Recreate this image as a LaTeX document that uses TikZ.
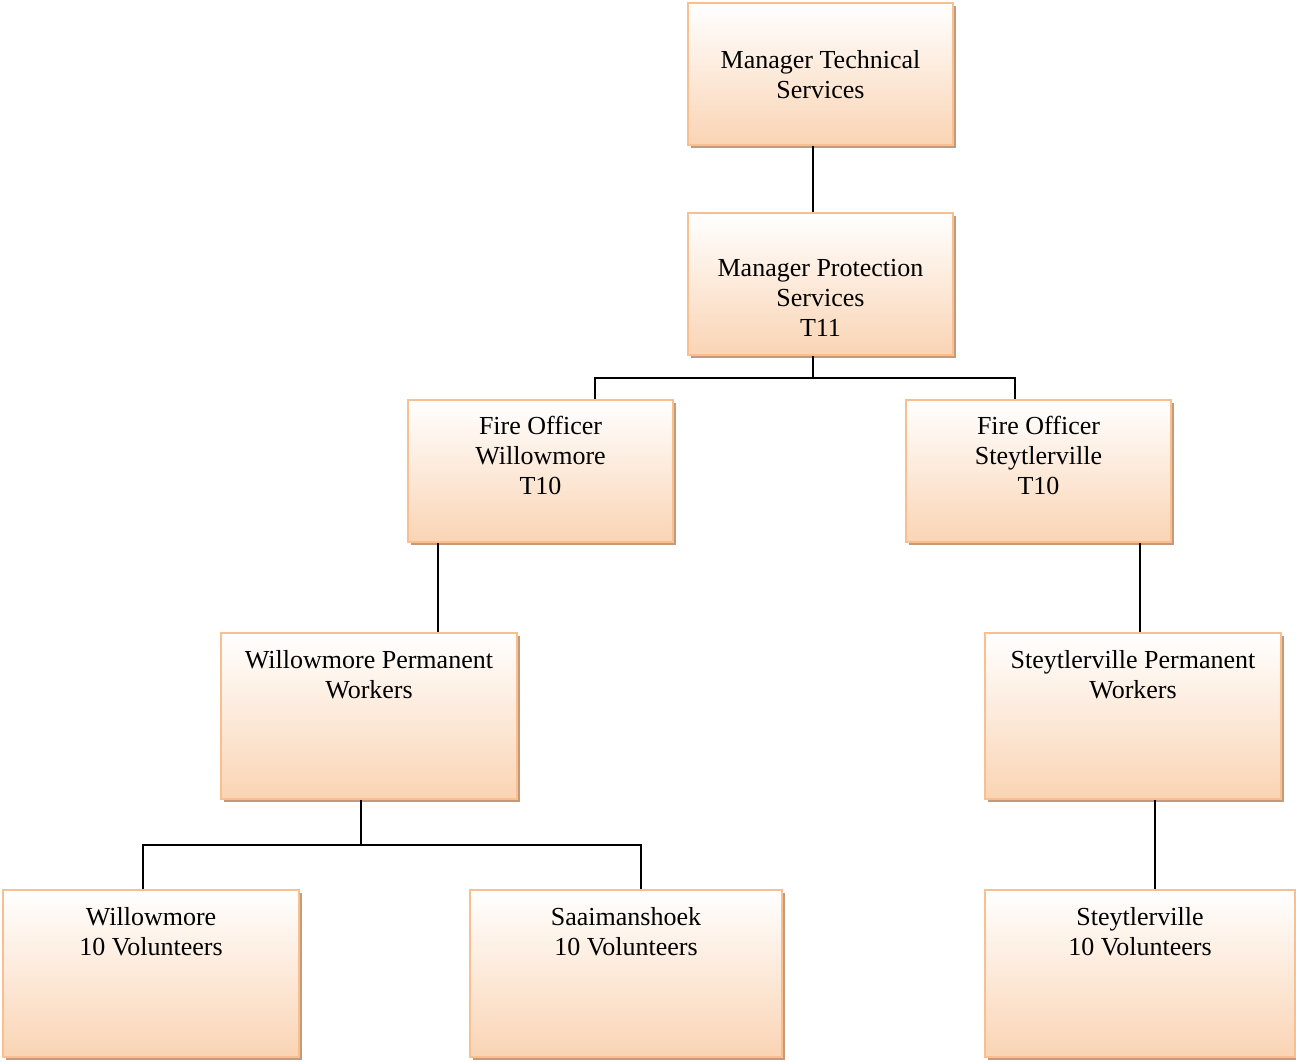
\documentclass[tikz,border=0pt]{standalone}
\usepackage{fontspec}
\setmainfont{Liberation Serif}
\usetikzlibrary{positioning,shadows}

\definecolor{boxline}{RGB}{250,191,143}
\definecolor{boxpeach}{RGB}{250,212,180}
\definecolor{boxshadow}{RGB}{196,154,122}

\begin{document}
\begin{tikzpicture}[
    x=0.5pt, y=-0.5pt,
    unit/.style={draw=boxline, line width=1pt, top color=white, bottom color=boxpeach,
      drop shadow={shadow xshift=1.5pt, shadow yshift=-1.5pt, fill=boxshadow, opacity=1},
      inner sep=0pt, minimum width=132.5pt, minimum height=71pt},
    wide/.style={unit, minimum width=148pt, minimum height=83pt},
    txt/.style={font=\fontsize{13}{15}\selectfont, align=center, inner sep=0pt},
    link/.style={line width=0.9pt}
  ]
    \useasboundingbox (0,0) rectangle (1296,1061);

    % boxes
    \node[unit] (tech) at (820.5,74) {};
    \node[unit] (prot) at (820.5,284) {};
    \node[unit] (fow) at (540.5,471) {};
    \node[unit] (fos) at (1038.5,471) {};
    \node[wide] (wpw) at (369,716) {};
    \node[wide] (spw) at (1133,716) {};
    \node[wide, minimum height=83.5pt] (wv) at (151,973.5) {};
    \node[wide, minimum width=156pt, minimum height=83.5pt] (sv) at (626,973.5) {};
    \node[wide, minimum width=155pt, minimum height=83.5pt] (stv) at (1140,973.5) {};

    % texts
    \node[txt, below=24pt of tech.north] (techtxt) {Manager Technical\\Services};
    \node[txt, below=23.5pt of prot.north] (prottxt) {Manager Protection\\Services\\T11};
    \node[txt, below=8.5pt of fow.north] (fowtxt) {Fire Officer\\Willowmore\\T10};
    \node[txt, below=8.5pt of fos.north] (fostxt) {Fire Officer\\Steytlerville\\T10};
    \node[txt, below=9pt of wpw.north] (wpwtxt) {Willowmore Permanent\\Workers};
    \node[txt, below=9pt of spw.north] (spwtxt) {Steytlerville Permanent\\Workers};
    \node[txt, below=9pt of wv.north] (wvtxt) {Willowmore\\10 Volunteers};
    \node[txt, below=9pt of sv.north] (svtxt) {Saaimanshoek\\10 Volunteers};
    \node[txt, below=9pt of stv.north] (stvtxt) {Steytlerville\\10 Volunteers};

    % connectors
    \draw[link] ([xshift=-3.75pt]tech.south) -- ([xshift=-3.75pt]prot.north);
    \draw[link] ([xshift=-3.75pt]prot.south) -- ++(0,22) -| ([xshift=27.25pt]fow.north);
    \draw[link] ([xshift=-3.75pt]prot.south) -- ++(0,22) -| ([xshift=-11.75pt]fos.north);
    \draw[link] ([xshift=-51.25pt]fow.south) -- ([xshift=-51.25pt]fow.south |- wpw.north);
    \draw[link] ([xshift=50.75pt]fos.south) -- ([xshift=50.75pt]fos.south |- spw.north);
    \draw[link] ([xshift=-4pt]wpw.south) -- ++(0,45) -| ([xshift=-4pt]wv.north);
    \draw[link] ([xshift=-4pt]wpw.south) -- ++(0,45) -| ([xshift=7.5pt]sv.north);
    \draw[link] ([xshift=11pt]spw.south) -- ([xshift=11pt]spw.south |- stv.north);
\end{tikzpicture}
\end{document}
